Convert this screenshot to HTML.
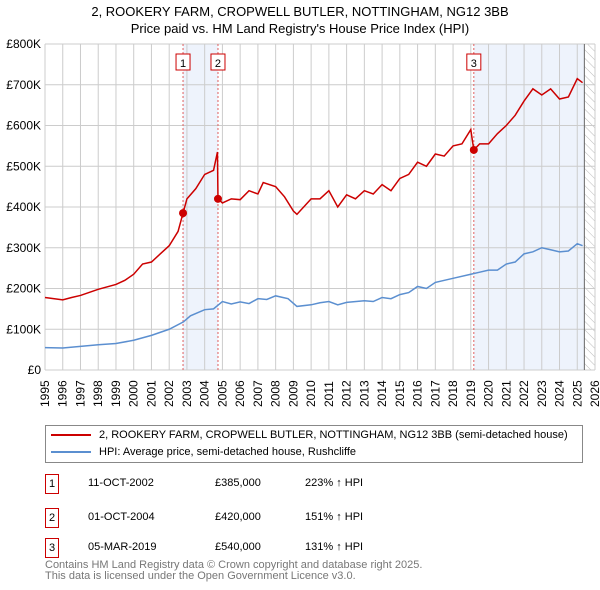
<!DOCTYPE html>
<html><head><meta charset="utf-8"><style>
body{margin:0;background:#fff;font-family:"Liberation Sans","DejaVu Sans",sans-serif;}
#wrap{position:relative;width:600px;height:590px;overflow:hidden;}
.t{position:absolute;font-size:12px;color:#000;white-space:nowrap;}
</style></head><body>
<div id="wrap">
<div class="t" style="left:0;width:600px;text-align:center;top:3px;font-size:13px;line-height:17px;">2, ROOKERY FARM, CROPWELL BUTLER, NOTTINGHAM, NG12 3BB<br>Price paid vs. HM Land Registry's House Price Index (HPI)</div>
<svg id="chart" width="600" height="420" style="position:absolute;left:0;top:0"></svg>
<div style="position:absolute;left:45px;top:425px;width:536px;height:36px;border:1px solid #888;">
 <div style="position:absolute;left:5px;top:3px;font-size:11px;white-space:nowrap;"><span style="display:inline-block;width:40px;height:2px;background:#cc0000;vertical-align:middle;margin-right:8px"></span>2, ROOKERY FARM, CROPWELL BUTLER, NOTTINGHAM, NG12 3BB (semi-detached house)</div>
 <div style="position:absolute;left:5px;top:20px;font-size:11px;white-space:nowrap;"><span style="display:inline-block;width:40px;height:2px;background:#5b8fd0;vertical-align:middle;margin-right:8px"></span>HPI: Average price, semi-detached house, Rushcliffe</div>
</div>
<div id="rows"></div>
<div class="t" style="left:45px;top:560px;font-size:11px;color:#777;line-height:11px;">Contains HM Land Registry data © Crown copyright and database right 2025.<br>This data is licensed under the Open Government Licence v3.0.</div>
</div>
<script>
const years=[1995,1996,1997,1998,1999,2000,2001,2002,2003,2004,2005,2006,2007,2008,2009,2010,2011,2012,2013,2014,2015,2016,2017,2018,2019,2020,2021,2022,2023,2024,2025,2026];
const yTicks=[0,100,200,300,400,500,600,700,800];
const hpiT=[1995,1996,1997,1998,1999,2000,2001,2002,2002.8,2003.2,2004,2004.5,2005,2005.5,2006,2006.5,2007,2007.5,2008,2008.7,2009.2,2010,2010.5,2011,2011.5,2012,2013,2013.5,2014,2014.5,2015,2015.5,2016,2016.5,2017,2018,2019,2019.5,2020,2020.5,2021,2021.5,2022,2022.5,2023,2023.5,2024,2024.5,2025,2025.3];
const hpiV=[55,54,58,62,65,73,85,100,118,133,148,150,168,162,167,163,175,173,182,175,156,160,165,168,160,166,170,168,178,175,185,190,205,200,215,225,235,240,245,245,260,265,285,290,300,295,290,292,310,305];
const priceT=[1995,1996,1996.5,1997,1998,1999,1999.5,2000,2000.5,2001,2001.5,2002,2002.5,2002.78,2003,2003.5,2004,2004.5,2004.72,2004.75,2005,2005.5,2006,2006.5,2007,2007.3,2008,2008.5,2009,2009.2,2010,2010.5,2011,2011.5,2012,2012.5,2013,2013.5,2014,2014.5,2015,2015.5,2016,2016.5,2017,2017.5,2018,2018.5,2019,2019.1,2019.17,2019.5,2020,2020.5,2021,2021.5,2022,2022.5,2023,2023.5,2024,2024.5,2025,2025.3];
const priceV=[178,172,178,183,198,210,220,235,260,265,285,305,340,385,420,445,480,490,535,420,410,420,418,440,432,460,450,425,390,382,420,420,440,400,430,420,440,432,455,440,470,480,510,500,530,525,550,555,590,560,540,555,555,580,600,625,660,690,675,690,665,670,715,705];
const saleT=[2002.78,2004.75,2019.17];
const saleV=[385,420,540];
const saleLabels=["1","2","3"];
const saleDates=["11-OCT-2002","01-OCT-2004","05-MAR-2019"];
const salePrices=["£385,000","£420,000","£540,000"];
const saleHpi=["223% ↑ HPI","151% ↑ HPI","131% ↑ HPI"];
const X0=45,X1=595,Y0=370,Y1=44;
const xs=t=>X0+(t-1995)/31*(X1-X0);
const ys=v=>Y0-v/800*(Y0-Y1);
const svg=document.getElementById('chart');const NS='http://www.w3.org/2000/svg';
function mk(tag,attrs,parent){const e=document.createElementNS(NS,tag);for(const k in attrs)e.setAttribute(k,attrs[k]);(parent||svg).appendChild(e);return e;}
let e;
e=mk('rect',{x:xs(saleT[0]),y:Y1,width:xs(saleT[1])-xs(saleT[0]),height:Y0-Y1,fill:'#eef3fc'});


e=mk('rect',{x:xs(saleT[2]),y:Y1,width:xs(2025.4)-xs(saleT[2]),height:Y0-Y1,fill:'#eef3fc'});


const defs=mk('defs',{});const pat=mk('pattern',{id:'h',width:6,height:6,patternUnits:'userSpaceOnUse',patternTransform:'rotate(-45)'},defs);
mk('line',{x1:0,y1:0,x2:0,y2:6,stroke:'#bbb','stroke-width':1},pat);
e=mk('rect',{x:xs(2025.4),y:Y1,width:X1-xs(2025.4),height:Y0-Y1,fill:'url(#h)'});


years.forEach(y=>{
 e=mk('line',{x1:xs(y),x2:xs(y),y1:Y1,y2:Y0,stroke:'#ccc'});
 
 
 e=mk('text',{x:0,y:0,transform:`translate(${xs(y)+4},${Y0+37}) rotate(-90)`,'font-size':12,'font-family':'Liberation Sans, sans-serif'});
 e.textContent=y;
 
 
});
yTicks.forEach(v=>{
 e=mk('line',{x1:X0,x2:X1,y1:ys(v),y2:ys(v),stroke:'#ccc'});
 
 
 e=mk('text',{x:X0-4,y:ys(v)+4,'text-anchor':'end','font-size':12,'font-family':'Liberation Sans, sans-serif'});
 e.textContent=v===0?'£0':'£'+v+'K';
 
 
});
e=mk('line',{x1:xs(2025.4),x2:xs(2025.4),y1:Y1,y2:Y0,stroke:'#666'});


saleT.forEach((t,i)=>{
 e=mk('line',{x1:xs(t),x2:xs(t),y1:Y1,y2:Y0,stroke:'#e06060','stroke-dasharray':'2,2'});
 
 
 e=mk('rect',{x:xs(t)-7,y:54,width:14,height:16,fill:'#fff',stroke:'#cc0000'});
 
 
 e=mk('text',{x:xs(t)-4,y:63,'font-size':11,'text-anchor':'middle','font-family':'Liberation Sans, sans-serif'});
 e.setAttribute('x',xs(t)-4+4);e.setAttribute('y',67);
 e.textContent=saleLabels[i];
 
 
});
e=mk('polyline',{points:hpiT.map((t,i)=>xs(t)+','+ys(hpiV[i])).join(' '),fill:'none',stroke:'#5b8fd0','stroke-width':1.5});


e=mk('polyline',{points:priceT.map((t,i)=>xs(t)+','+ys(priceV[i])).join(' '),fill:'none',stroke:'#cc0000','stroke-width':1.5});


saleT.forEach((t,i)=>{
 e=mk('circle',{cx:xs(t),cy:ys(saleV[i]),r:4,fill:'#cc0000'});
 
 
});
const rows=document.getElementById('rows');
const rowY=[474,508,538];
saleLabels.forEach((l,i)=>{
 const d=document.createElement('div');
 
 
 d.style.cssText=`position:absolute;left:0;top:${rowY[i]}px;width:600px;height:20px;font-size:11px;`;
 d.innerHTML=`<div style="position:absolute;left:45px;top:0;width:12px;height:18px;border:1px solid #cc0000;text-align:center;line-height:18px">${l}</div><div style="position:absolute;left:88px;top:3px">${saleDates[i]}</div><div style="position:absolute;left:215px;top:3px">${salePrices[i]}</div><div style="position:absolute;left:305px;top:3px">${saleHpi[i]}</div>`;
 rows.appendChild(d);
});
</script>
</body></html>
